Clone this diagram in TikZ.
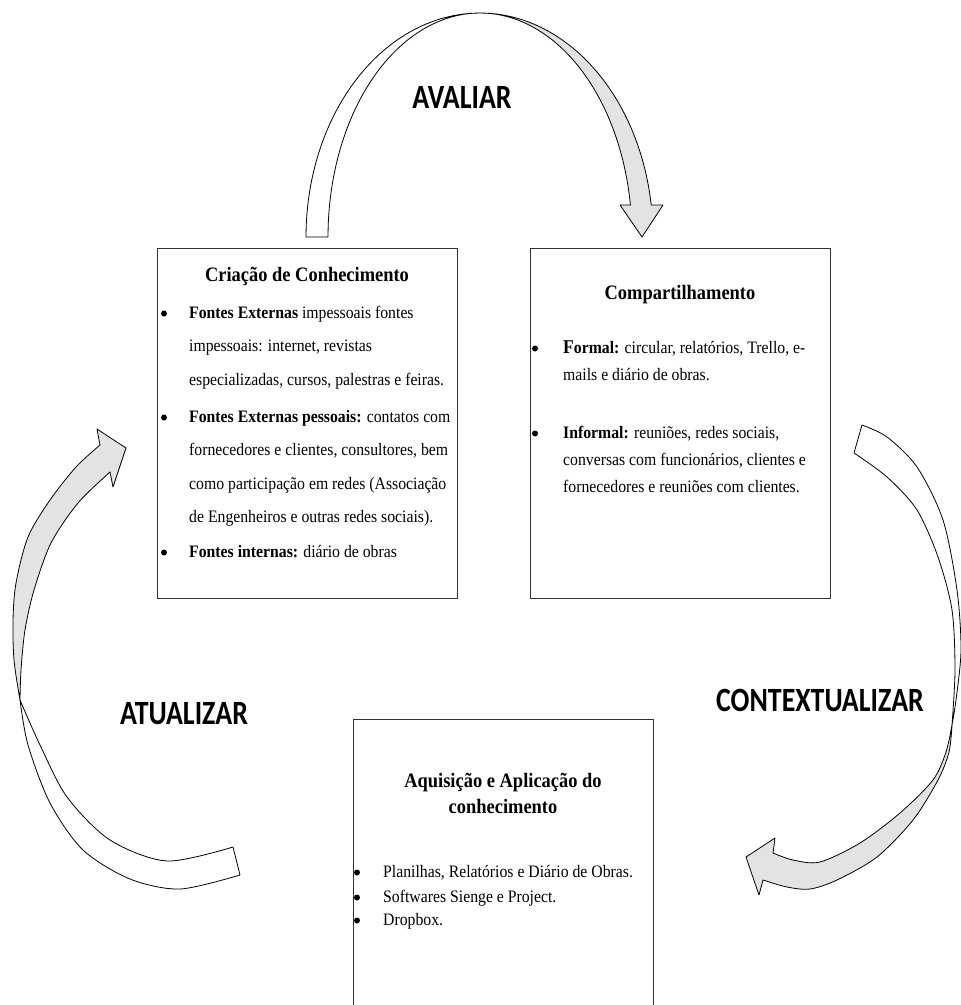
\documentclass[tikz,border=0pt]{standalone}
\usepackage{fontspec}
\setmainfont{Liberation Serif}[FakeStretch=0.9]
\newfontfamily\labelfont{Carlito}[FakeStretch=0.82]
\usetikzlibrary{positioning}

\definecolor{arrowgray}{RGB}{227,227,227}
\definecolor{boxline}{RGB}{50,50,50}

\newcommand{\blines}[2][l]{\begin{tabular}[t]{@{}#1@{}}#2\end{tabular}}

\tikzset{
  box/.style={draw=boxline, line width=1.4pt, anchor=north west, inner sep=0pt},
  boxtitle/.style={font=\fontsize{20.5}{26}\selectfont\bfseries, anchor=base, inner sep=0pt},
  item/.style={anchor=base west, inner sep=0pt},
  dot/.style={circle, fill=black, inner sep=0pt, minimum size=6pt},
  band/.style={draw=black, line width=0.8pt, fill=white, line join=round},
  bandback/.style={band, fill=arrowgray},
  cyclelabel/.style={font=\labelfont\bfseries\fontsize{34}{38}\selectfont, anchor=base, inner sep=0pt}
}

\begin{document}
\begin{tikzpicture}[x=1pt,y=-1pt]
\useasboundingbox (0,0) rectangle (961,1005);

% AVALIAR arrow
\draw[band] plot[smooth, samples=30, domain=180:90, variable=\t] ({480+174*cos(\t)},{237-224*sin(\t)})
  -- plot[smooth, samples=30, domain=90:180, variable=\t] ({480+152*cos(\t)},{237-224*sin(\t)}) -- cycle;
\draw[bandback] plot[smooth, samples=30, domain=90:8.2, variable=\t] ({480+173*cos(\t)},{237-224*sin(\t)})
  -- (663,205) -- (642,237) -- (620,205)
  -- plot[smooth, samples=30, domain=8.2:90, variable=\t] ({480+152*cos(\t)},{237-224*sin(\t)}) -- cycle;

% ATUALIZAR arrow
\draw[bandback] plot[smooth] coordinates {(20,700) (14,660) (13,620) (16,583) (28,537) (50,500) (76,467) (100,445)}
  -- (97,429) -- (126,448) -- (113,487) -- (110,472)
  -- plot[smooth] coordinates {(110,472) (78,503) (51,543) (34,590) (25,630) (21,670) (20,700)} -- cycle;
\draw[band] plot[smooth] coordinates {(20,700) (28,745) (50,803) (83,850) (130,879) (180,889) (240,875)}
  -- (233,847)
  -- plot[smooth] coordinates {(233,847) (167,861) (110,840) (67,797) (40,745) (20,700)} -- cycle;

% CONTEXTUALIZAR arrow
\draw[band] plot[smooth] coordinates {(862,425) (887,437) (917,467) (943,520) (957,590) (961,650) (956,700) (952,725)}
  -- plot[smooth] coordinates {(952,725) (955,670) (952,610) (938,557) (917,510) (887,477) (854,453)} -- cycle;
\draw[bandback] plot[smooth] coordinates {(952,725) (949,752) (938,780) (913,820) (877,857) (837,880) (810,889) (787,887) (763,880)}
  -- (759,895) -- (746,857) -- (775,838) -- (773,853)
  -- plot[smooth] coordinates {(773,853) (793,860) (820,862) (860,843) (900,813) (933,780) (946,752) (952,725)} -- cycle;

\node[cyclelabel] (avaliar) at (462,108) {AVALIAR};
\node[cyclelabel] (atualizar) at (184,724) {ATUALIZAR};
\node[cyclelabel] (contextualizar) at (820,711) {CONTEXTUALIZAR};

% Criacao de Conhecimento
\node[box, minimum width=300pt, minimum height=350pt] (criacao) at (157,248) {};
\node[boxtitle] (criacaotitle) at (307,281) {Criação de Conhecimento};
\begin{scope}[every node/.append style={font=\fontsize{17.5}{33.5}\selectfont}]
\node[item] (cext) at (189,318) {\blines{\textbf{Fontes Externas} impessoais fontes\\impessoais: internet, revistas\\especializadas, cursos, palestras e feiras.}};
\node[item] (cpes) at (189,422) {\blines{\textbf{Fontes Externas pessoais:} contatos com\\fornecedores e clientes, consultores, bem\\como participação em redes (Associação\\de Engenheiros e outras redes sociais).}};
\node[item] (cint) at (189,557) {\blines{\textbf{Fontes internas:} diário de obras}};
\node[dot] (cextdot) at ([xshift=-25pt,yshift=4.5pt]cext.base west) {};
\node[dot] (cpesdot) at ([xshift=-25pt,yshift=4.5pt]cpes.base west) {};
\node[dot] (cintdot) at ([xshift=-25pt,yshift=4.5pt]cint.base west) {};
\end{scope}

% Compartilhamento
\node[box, minimum width=300pt, minimum height=350pt] (compart) at (530,248) {};
\node[boxtitle] (comparttitle) at (680,299) {Compartilhamento};
\begin{scope}[every node/.append style={font=\fontsize{17.5}{27}\selectfont}]
\node[item] (cform) at (563,353) {\blines{{\fontsize{19.5}{27}\selectfont\textbf{F}}\textbf{ormal:} circular, relatórios, Trello, e-\\mails e diário de obras.}};
\node[item] (cinf) at (563,438) {\blines{\textbf{Informal:} reuniões, redes sociais,\\conversas com funcionários, clientes e\\fornecedores e reuniões com clientes.}};
\node[dot] (cformdot) at ([xshift=-28pt,yshift=4.5pt]cform.base west) {};
\node[dot] (cinfdot) at ([xshift=-28pt,yshift=4.5pt]cinf.base west) {};
\end{scope}

% Aquisicao e Aplicacao
\node[box, minimum width=300pt, minimum height=300pt] (aquis) at (353,719) {};
\node[boxtitle] (aquistitle) at (503,787) {\blines[c]{Aquisição e Aplicação do\\conhecimento}};
\begin{scope}[every node/.append style={font=\fontsize{17.5}{24}\selectfont}]
\node[item] (aplan) at (383,877) {Planilhas, Relatórios e Diário de Obras.};
\node[item] (asoft) at (383,902) {Softwares Sienge e Project.};
\node[item] (adrop) at (383,925) {Dropbox.};
\node[dot] (aplandot) at ([xshift=-26pt,yshift=4.5pt]aplan.base west) {};
\node[dot] (asoftdot) at ([xshift=-26pt,yshift=4.5pt]asoft.base west) {};
\node[dot] (adropdot) at ([xshift=-26pt,yshift=4.5pt]adrop.base west) {};
\end{scope}

\end{tikzpicture}
\end{document}
